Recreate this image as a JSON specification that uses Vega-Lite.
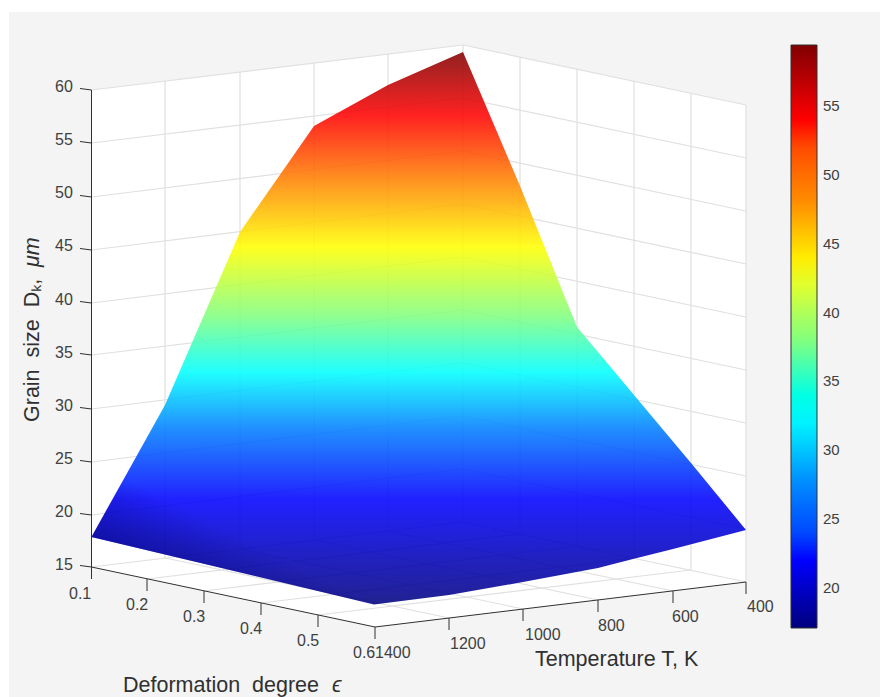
{
"$schema":"https://vega.github.io/schema/vega-lite/v6.json",
"width":880,"height":697,"padding":0,"autosize":{"type":"none"},
"background":"white",
"config":{"view":{"stroke":null}},
"encoding":{
 "x":{"field":"x","type":"quantitative","axis":null,"scale":{"domain":[0,880],"nice":false,"zero":false}},
 "y":{"field":"y","type":"quantitative","axis":null,"scale":{"domain":[697,0],"nice":false,"zero":false}}
},
"layer":[
{"data":{"values":[{"x":9,"x2":880,"y":12,"y2":697}]},
 "mark":{"type":"rect","fill":"#f4f4f4"},
 "encoding":{"x2":{"field":"x2"},"y2":{"field":"y2"}}},
{"data":{"values":[
 {"wall":"left","o":1,"x":91.5,"y":90},{"wall":"left","o":2,"x":463,"y":45},{"wall":"left","o":3,"x":463,"y":522},{"wall":"left","o":4,"x":91.5,"y":567},
 {"wall":"right","o":1,"x":463,"y":45},{"wall":"right","o":2,"x":746,"y":105},{"wall":"right","o":3,"x":746,"y":582},{"wall":"right","o":4,"x":463,"y":522},
 {"wall":"floor","o":1,"x":91.5,"y":567},{"wall":"floor","o":2,"x":375,"y":627},{"wall":"floor","o":3,"x":746,"y":582},{"wall":"floor","o":4,"x":463,"y":522}
 ]},
 "mark":{"type":"line","interpolate":"linear-closed","fill":"#ffffff","stroke":null,"strokeWidth":0},
 "encoding":{"detail":{"field":"wall"},"order":{"field":"o"}}},
{"data":{"values":[
 {"x":91.5,"y":90,"x2":463,"y2":45},{"x":91.5,"y":143,"x2":463,"y2":98},{"x":91.5,"y":197,"x2":463,"y2":151},{"x":91.5,"y":250,"x2":463,"y2":204},{"x":91.5,"y":303,"x2":463,"y2":257},{"x":91.5,"y":355,"x2":463,"y2":310},{"x":91.5,"y":409,"x2":463,"y2":363},{"x":91.5,"y":462,"x2":463,"y2":416},{"x":91.5,"y":515,"x2":463,"y2":469},
 {"x":463,"y":45,"x2":746,"y2":105},{"x":463,"y":98,"x2":746,"y2":158},{"x":463,"y":151,"x2":746,"y2":211},{"x":463,"y":204,"x2":746,"y2":264},{"x":463,"y":257,"x2":746,"y2":317},{"x":463,"y":310,"x2":746,"y2":370},{"x":463,"y":363,"x2":746,"y2":423},{"x":463,"y":416,"x2":746,"y2":476},{"x":463,"y":469,"x2":746,"y2":529},
 {"x":165,"y":81,"x2":165,"y2":558},{"x":240,"y":72,"x2":240,"y2":549},{"x":314,"y":63,"x2":314,"y2":540},{"x":388,"y":54,"x2":388,"y2":531},{"x":463,"y":45,"x2":463,"y2":522},
 {"x":520,"y":57,"x2":520,"y2":534},{"x":577,"y":69,"x2":577,"y2":546},{"x":634,"y":81,"x2":634,"y2":558},{"x":691,"y":93,"x2":691,"y2":570},{"x":746,"y":105,"x2":746,"y2":582},
 {"x":91.5,"y":567,"x2":463,"y2":522},{"x":463,"y":522,"x2":746,"y2":582},
 {"x":147,"y":579,"x2":520,"y2":534},{"x":204,"y":591,"x2":577,"y2":546},{"x":261,"y":603,"x2":634,"y2":558},{"x":318,"y":615,"x2":691,"y2":570},
 {"x":449,"y":618,"x2":165,"y2":558},{"x":523,"y":609,"x2":240,"y2":549},{"x":598,"y":600,"x2":314,"y2":540},{"x":673,"y":591,"x2":388,"y2":531}
 ]},
 "mark":{"type":"rule","color":"#e0e0e0","strokeWidth":1.2},
 "encoding":{"x2":{"field":"x2"},"y2":{"field":"y2"}}},
{"data":{"values":[
 {"x":91.5,"y":90,"x2":91.5,"y2":579},{"x":91.5,"y":567,"x2":375,"y2":627},{"x":375,"y":627,"x2":746,"y2":582},
 {"x":80,"y":88.5,"x2":91.5,"y2":90},{"x":80,"y":141.5,"x2":91.5,"y2":143},{"x":80,"y":195.5,"x2":91.5,"y2":197},{"x":80,"y":248.5,"x2":91.5,"y2":250},{"x":80,"y":301.5,"x2":91.5,"y2":303},{"x":80,"y":353.5,"x2":91.5,"y2":355},{"x":80,"y":407.5,"x2":91.5,"y2":409},{"x":80,"y":460.5,"x2":91.5,"y2":462},{"x":80,"y":513.5,"x2":91.5,"y2":515},{"x":80,"y":565.5,"x2":91.5,"y2":567},
 {"x":147,"y":579,"x2":147,"y2":591},{"x":204,"y":591,"x2":204,"y2":603},{"x":261,"y":603,"x2":261,"y2":615},{"x":318,"y":615,"x2":318,"y2":627},{"x":375,"y":627,"x2":375,"y2":639},
 {"x":449,"y":618,"x2":449,"y2":630},{"x":523,"y":609,"x2":523,"y2":621},{"x":598,"y":600,"x2":598,"y2":612},{"x":673,"y":591,"x2":673,"y2":603},{"x":746,"y":582,"x2":746,"y2":594},
 {"x":812,"y":106,"x2":817,"y2":106},{"x":812,"y":175,"x2":817,"y2":175},{"x":812,"y":244,"x2":817,"y2":244},{"x":812,"y":312,"x2":817,"y2":312},{"x":812,"y":381,"x2":817,"y2":381},{"x":812,"y":450,"x2":817,"y2":450},{"x":812,"y":519,"x2":817,"y2":519},{"x":812,"y":588,"x2":817,"y2":588}
 ]},
 "mark":{"type":"rule","color":"#303030","strokeWidth":1},
 "encoding":{"x2":{"field":"x2"},"y2":{"field":"y2"}}},
{"data":{"values":[
 {"o":1,"x":91.5,"y":537},{"o":2,"x":165,"y":405},{"o":3,"x":240,"y":232},{"o":4,"x":314,"y":126},{"o":5,"x":388,"y":85},{"o":6,"x":463,"y":52},
 {"o":7,"x":520,"y":186},{"o":8,"x":577,"y":327},{"o":9,"x":634,"y":395},{"o":10,"x":691,"y":463},{"o":11,"x":746,"y":530},
 {"o":12,"x":673,"y":549},{"o":13,"x":633,"y":559},{"o":14,"x":598,"y":568},{"o":15,"x":523,"y":582},{"o":16,"x":449,"y":595},{"o":17,"x":374,"y":604.5}
 ]},
 "mark":{"type":"line","interpolate":"linear-closed","stroke":null,"strokeWidth":0,"fillOpacity":0.87,
  "fill":{"gradient":"linear","x1":0,"y1":0,"x2":0,"y2":1,"stops":[
   {"offset":0,"color":"#800000"},{"offset":0.114,"color":"#ff0000"},{"offset":0.23,"color":"#ff8000"},{"offset":0.353,"color":"#ffff00"},{"offset":0.478,"color":"#80ff80"},{"offset":0.58,"color":"#00ffff"},{"offset":0.68,"color":"#0080ff"},{"offset":0.81,"color":"#0000ff"},{"offset":1,"color":"#000080"}]}},
 "encoding":{"order":{"field":"o"}}},
{"data":{"values":[
 {"o":1,"x":91.5,"y":537},{"o":2,"x":124,"y":478},{"o":3,"x":374,"y":604.5}
 ]},
 "mark":{"type":"line","interpolate":"linear-closed","stroke":null,"strokeWidth":0,
  "fill":{"gradient":"linear","x1":0,"y1":0.466,"x2":0.296,"y2":0.204,"stops":[{"offset":0,"color":"rgba(0,0,120,0.5)"},{"offset":1,"color":"rgba(0,0,120,0)"}]}},
 "encoding":{"order":{"field":"o"}}},
{"data":{"values":[
 {"T":1400,"eps":0.1,"D":18.1,"x":91.5,"y":537},{"T":1400,"eps":0.6,"D":17.3,"x":374,"y":604.5},{"T":400,"eps":0.6,"D":19.4,"x":746,"y":530},{"T":400,"eps":0.1,"D":59.3,"x":463,"y":52}
 ]},
 "mark":{"type":"point","filled":true,"size":1,"opacity":0},
 "encoding":{"color":{"field":"D","type":"quantitative",
   "scale":{"domain":[17.09,22,27.3,32.6,37.9,43.2,48.6,54,59.43],"range":["#00007f","#0000ff","#0080ff","#00ffff","#80ff80","#ffff00","#ff8000","#ff0000","#800000"],"nice":false,"zero":false},
   "legend":{"title":null,"orient":"none","legendX":791,"legendY":45,"padding":0,"direction":"vertical","gradientLength":583,"gradientThickness":26,"gradientStrokeColor":"#303030","gradientStrokeWidth":1,"gradientOpacity":1,"values":[20,25,30,35,40,45,50,55],"labelFontSize":15,"labelFont":"Liberation Sans","labelColor":"#404040","labelOffset":6,"tickCount":40,"zindex":1,"encode":{"gradient":{"update":{"opacity":{"value":1}}}}}}}},
{"data":{"values":[
 {"t":"60","x":55,"y":87},{"t":"55","x":55,"y":140},{"t":"50","x":55,"y":193},{"t":"45","x":55,"y":246},{"t":"40","x":55,"y":300},{"t":"35","x":55,"y":353},{"t":"30","x":55,"y":406},{"t":"25","x":55,"y":459},{"t":"20","x":55,"y":512},{"t":"15","x":55,"y":565},
 {"t":"0.1","x":69,"y":594},{"t":"0.2","x":126,"y":605},{"t":"0.3","x":183,"y":617},{"t":"0.4","x":240,"y":629},{"t":"0.5","x":297,"y":641},{"t":"0.6","x":353,"y":653},
 {"t":"1400","x":375,"y":653},{"t":"1200","x":450,"y":644},{"t":"1000","x":525,"y":635},{"t":"800","x":598,"y":626},{"t":"600","x":672,"y":617},{"t":"400","x":747,"y":607}
 ]},
 "mark":{"type":"text","align":"left","baseline":"middle","font":"Liberation Sans","fontSize":16,"color":"#404040"},
 "encoding":{"text":{"field":"t"}}},
{"data":{"values":[
 {"t":"Temperature T, K","x":535,"y":660},{"t":"Deformation\u00a0\u00a0degree","x":123,"y":686}
 ]},
 "mark":{"type":"text","align":"left","baseline":"middle","font":"Liberation Sans","fontSize":21.5,"color":"#303030"},
 "encoding":{"text":{"field":"t"}}},
{"data":{"values":[{"t":"ϵ","x":332,"y":686}]},
 "mark":{"type":"text","align":"left","baseline":"middle","font":"Liberation Sans","fontSize":21.5,"fontStyle":"italic","color":"#303030"},
 "encoding":{"text":{"field":"t"}}},
{"data":{"values":[{"t":"Grain\u00a0\u00a0size\u00a0\u00a0Dₖ,","x":33,"y":422}]},
 "mark":{"type":"text","align":"left","baseline":"middle","angle":270,"font":"Liberation Sans","fontSize":21.5,"color":"#303030"},
 "encoding":{"text":{"field":"t"}}},
{"data":{"values":[{"t":"μm","x":33,"y":267}]},
 "mark":{"type":"text","align":"left","baseline":"middle","angle":270,"font":"Liberation Sans","fontSize":21.5,"fontStyle":"italic","color":"#303030"},
 "encoding":{"text":{"field":"t"}}}
]
}
